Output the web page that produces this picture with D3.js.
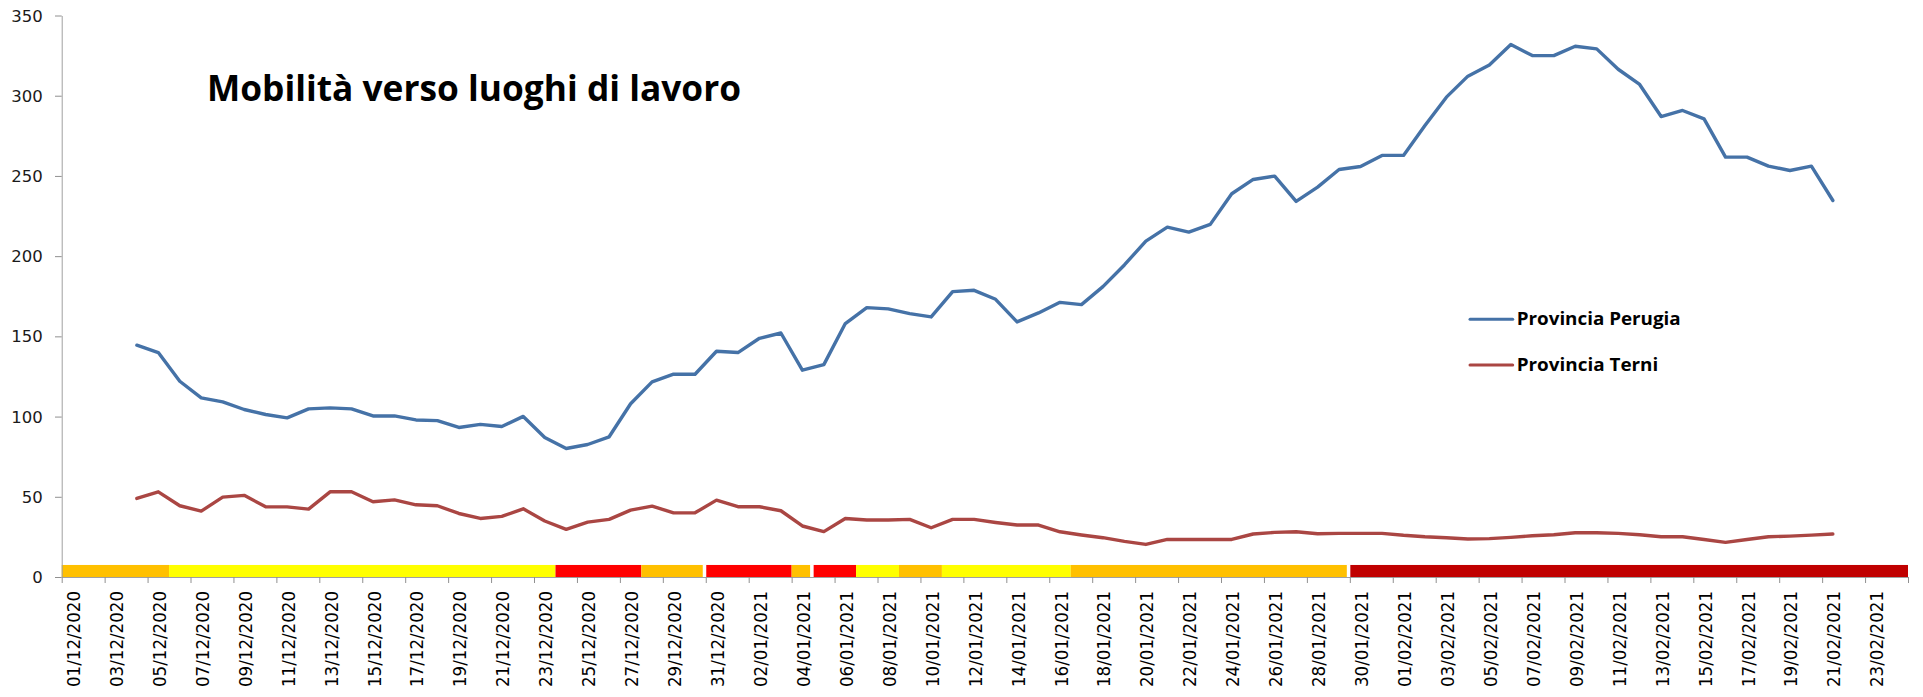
<!DOCTYPE html>
<html>
<head>
<meta charset="utf-8">
<script src="https://cdn.jsdelivr.net/npm/d3@7"></script>
<style>
  body { margin: 0; background: #fff; }
  svg { display: block; }
</style>
</head>
<body>
<div id="chart"></div>
<script>
// categories: one per day, 01/12/2020 .. 24/02/2021
var firstDay = new Date(2020, 11, 1);
var lastDay = new Date(2021, 1, 24);
var formatDay = d3.timeFormat("%d/%m/%Y");
var days = d3.timeDay.range(firstDay, d3.timeDay.offset(lastDay, 1)).map(formatDay);

// both series start on 04/12/2020
var seriesStart = "04/12/2020";
var perugia = [
  144.5, 139.9, 122.0, 111.7, 109.2, 104.4, 101.3, 99.2, 104.8, 105.4,
  104.8, 100.4, 100.4, 97.9, 97.5, 93.2, 95.1, 93.8, 100.1, 87.0,
  80.1, 82.6, 87.4, 108.0, 121.6, 126.4, 126.4, 140.7, 139.9, 148.8,
  152.1, 128.9, 132.4, 158.0, 167.9, 167.1, 164.2, 162.1, 177.9, 178.7,
  173.1, 159.0, 164.6, 171.2, 169.8, 181.0, 194.5, 209.4, 218.1, 215.0,
  219.8, 238.9, 247.8, 249.9, 234.1, 243.0, 254.0, 255.9, 262.8, 262.8,
  281.4, 299.1, 312.2, 319.2, 331.9, 325.0, 325.0, 330.8, 329.2, 316.5,
  307.0, 287.0, 290.8, 285.6, 261.7, 261.7, 256.1, 253.4, 256.1, 234.7
];
var terni = [
  49.0, 53.1, 44.4, 41.1, 49.8, 50.9, 43.8, 43.7, 42.3, 53.1,
  53.1, 46.9, 48.1, 45.0, 44.4, 39.6, 36.5, 37.8, 42.5, 34.9,
  29.7, 34.2, 35.9, 41.7, 44.2, 40.0, 40.0, 47.9, 43.8, 43.8,
  41.3, 31.8, 28.3, 36.5, 35.5, 35.5, 35.9, 30.7, 35.9, 35.9,
  34.0, 32.4, 32.4, 28.2, 26.2, 24.5, 22.2, 20.3, 23.4, 23.4,
  23.4, 23.4, 26.8, 27.8, 28.2, 27.0, 27.2, 27.2, 27.2, 26.0,
  25.1, 24.5, 23.7, 23.9, 24.7, 25.7, 26.3, 27.6, 27.6, 27.2,
  26.3, 25.1, 25.1, 23.4, 21.6, 23.4, 25.1, 25.5, 26.1, 26.8
];
var seriesNames = ["Provincia Perugia", "Provincia Terni"];

// zone colour band: runs of consecutive days
var zoneRunDays = [5, 18, 4, 3, 4, 1, 2, 2, 2, 6, 13, 26];
var zoneRunCodes = ["arancione", "gialla", "rossa", "arancione", "rossa", "arancione",
                    "rossa", "gialla", "arancione", "gialla", "arancione", "rossa scura"];
var zoneGapBefore = ["31/12/2020", "05/01/2021", "30/01/2021"];
var zoneBandValue = 7.5;

var yTicks = [0, 50, 100, 150, 200, 250, 300, 350];
var title = "Mobilità verso luoghi di lavoro";

var svgWidth = 1923;
var svgHeight = 697;
var plot = { left: 61.7, right: 1908, top: 15.5, bottom: 577 };

var zoneColor = {
  "arancione": "#FFC000",
  "gialla": "#FFFF00",
  "rossa": "#FF0000",
  "rossa scura": "#C00000"
};
var lineColor = ["#4572A7", "#AA4643"];

var svg = d3.select("#chart")
  .append("svg")
  .attr("width", svgWidth)
  .attr("height", svgHeight);

// scales
var xBand = d3.scaleBand()
  .domain(days)
  .range([plot.left, plot.right])
  .padding(0);

var xIndex = d3.scaleLinear()
  .domain([0, days.length])
  .range([plot.left, plot.right]);

var yScale = d3.scaleLinear()
  .domain([0, 350])
  .range([plot.bottom, plot.top]);

// zone band (bar at the bottom)
var runs = [];
var start = 0;
zoneRunDays.forEach(function(n, k) {
  runs.push({ from: start, to: start + n, code: zoneRunCodes[k] });
  start += n;
});

svg.append("g")
  .selectAll("rect")
  .data(runs)
  .enter()
  .append("rect")
  .attr("x", d => xIndex(d.from))
  .attr("width", d => xIndex(d.to) - xIndex(d.from))
  .attr("y", yScale(zoneBandValue))
  .attr("height", yScale(0) - yScale(zoneBandValue))
  .attr("fill", d => zoneColor[d.code]);

svg.append("g")
  .selectAll("rect")
  .data(zoneGapBefore)
  .enter()
  .append("rect")
  .attr("x", d => xBand(d) - 3)
  .attr("width", 3.5)
  .attr("y", yScale(zoneBandValue))
  .attr("height", yScale(0) - yScale(zoneBandValue))
  .attr("fill", "#fff");

// axes
var yAxis = svg.append("g")
  .attr("transform", `translate(${plot.left},0)`)
  .call(d3.axisLeft(yScale).tickValues(yTicks).tickSize(6.7).tickSizeOuter(0).tickPadding(12.3));

yAxis.select(".domain").attr("stroke", "#a0a0a0");
yAxis.selectAll(".tick line").attr("stroke", "#909090");
yAxis.selectAll("text")
  .attr("font-family", "DejaVu Sans, Verdana, sans-serif")
  .attr("font-size", "16.5px")
  .attr("fill", "#1a1a1a")
  .attr("dy", "0.34em");

var xTicks = svg.append("g")
  .attr("transform", `translate(0,${plot.bottom})`)
  .call(d3.axisBottom(xIndex).tickValues(d3.range(0, days.length + 1, 2)).tickSize(6).tickSizeOuter(0).tickFormat(""));

xTicks.select(".domain").attr("stroke", "#a0a0a0");
xTicks.selectAll(".tick line").attr("stroke", "#909090");

var xLabels = svg.append("g")
  .attr("transform", `translate(0,${plot.bottom})`)
  .call(d3.axisBottom(xBand).tickValues(days.filter((d, i) => i % 2 === 0)).tickSize(0));

xLabels.select(".domain").remove();
xLabels.selectAll("text")
  .attr("transform", "rotate(-90)")
  .attr("x", -14)
  .attr("y", 0)
  .attr("dy", "0.42em")
  .attr("text-anchor", "end")
  .attr("font-family", "DejaVu Sans, Verdana, sans-serif")
  .attr("font-size", "18px")
  .attr("textLength", 96)
  .attr("lengthAdjust", "spacingAndGlyphs")
  .attr("fill", "#000");

// lines
var offset = days.indexOf(seriesStart);
var line = d3.line()
  .x((d, i) => xBand(days[offset + i]) + xBand.bandwidth() / 2)
  .y(d => yScale(d));

[perugia, terni].forEach(function(values, k) {
  svg.append("path")
    .datum(values)
    .attr("d", line)
    .attr("fill", "none")
    .attr("stroke", lineColor[k])
    .attr("stroke-width", 3.4)
    .attr("stroke-linejoin", "round")
    .attr("stroke-linecap", "round");
});

// title
svg.append("text")
  .attr("x", 207)
  .attr("y", 101)
  .attr("font-family", "Open Sans, sans-serif")
  .attr("font-weight", 700)
  .attr("font-size", "35px")
  .attr("textLength", 534)
  .attr("lengthAdjust", "spacingAndGlyphs")
  .text(title);

// legend
var legend = svg.append("g")
  .attr("transform", "translate(1470,319.3)");

var legendRows = legend.selectAll("g")
  .data(seriesNames)
  .enter()
  .append("g")
  .attr("transform", (d, i) => `translate(0,${i * 45.7})`);

legendRows.append("line")
  .attr("x1", 0)
  .attr("x2", 42.7)
  .attr("stroke", (d, i) => lineColor[i])
  .attr("stroke-width", 3)
  .attr("stroke-linecap", "round");

legendRows.append("text")
  .attr("x", 46.7)
  .attr("y", 6)
  .attr("font-family", "Open Sans, sans-serif")
  .attr("font-weight", 700)
  .attr("font-size", "17.5px")
  .attr("textLength", (d, i) => i === 0 ? 164 : 141.6)
  .attr("lengthAdjust", "spacingAndGlyphs")
  .text(d => d);
</script>
</body>
</html>
